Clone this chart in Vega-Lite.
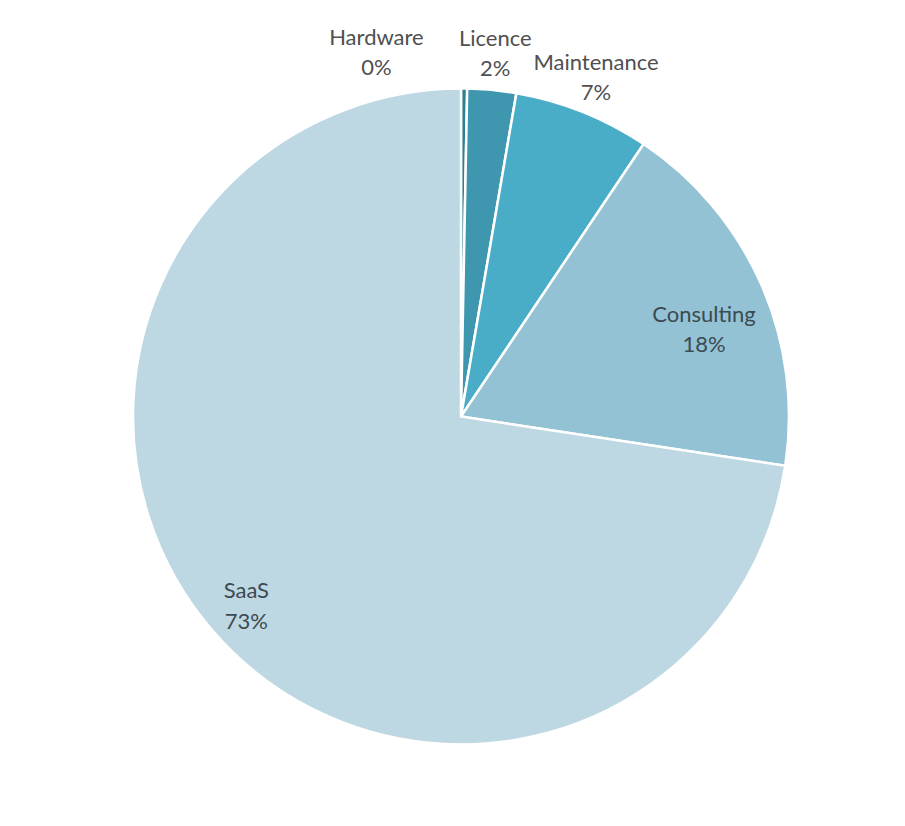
{
  "$schema": "https://vega.github.io/schema/vega-lite/v6.json",
  "width": 905,
  "height": 826,
  "autosize": {"type": "fit", "contains": "padding"},
  "padding": {"left": 17, "top": 7, "right": 0, "bottom": 0},
  "background": "white",
  "config": {
    "view": {"stroke": "#d9d9d9", "strokeWidth": 2},
    "text": {"font": "Lato", "fontSize": 22}
  },
  "data": {
    "values": [
      {"idx": 1, "category": "Hardware", "share": 0.003},
      {"idx": 2, "category": "Licence", "share": 0.024},
      {"idx": 3, "category": "Maintenance", "share": 0.067},
      {"idx": 4, "category": "Consulting", "share": 0.18},
      {"idx": 5, "category": "SaaS", "share": 0.726}
    ]
  },
  "encoding": {
    "theta": {"field": "share", "type": "quantitative", "stack": true},
    "order": {"field": "idx", "type": "quantitative"}
  },
  "layer": [
    {
      "mark": {"type": "arc", "outerRadius": 328, "stroke": "white", "strokeWidth": 2.5},
      "encoding": {
        "color": {
          "field": "category",
          "type": "nominal",
          "scale": {
            "domain": ["Hardware", "Licence", "Maintenance", "Consulting", "SaaS"],
            "range": ["#2e7d93", "#3e97ae", "#4aadc7", "#93c2d4", "#bdd8e2"]
          },
          "legend": null
        }
      }
    },
    {
      "mark": {"type": "text", "radius": 364, "dy": -15, "fill": "#505050"},
      "encoding": {
        "text": {"condition": {"test": "datum.category === 'Licence' || datum.category === 'Maintenance'", "field": "category", "type": "nominal"}, "value": ""}
      }
    },
    {
      "mark": {"type": "text", "radius": 364, "dy": 15, "fill": "#505050"},
      "encoding": {
        "text": {"condition": {"test": "datum.category === 'Licence' || datum.category === 'Maintenance'", "field": "share", "type": "quantitative", "format": ".0%"}, "value": ""}
      }
    },
    {
      "mark": {"type": "text", "radius": 364, "dx": -88, "dy": -15, "fill": "#505050"},
      "encoding": {
        "text": {"condition": {"test": "datum.category === 'Hardware'", "field": "category", "type": "nominal"}, "value": ""}
      }
    },
    {
      "mark": {"type": "text", "radius": 364, "dx": -88, "dy": 15, "fill": "#505050"},
      "encoding": {
        "text": {"condition": {"test": "datum.category === 'Hardware'", "field": "share", "type": "quantitative", "format": ".0%"}, "value": ""}
      }
    },
    {
      "mark": {"type": "text", "radius": 260, "dx": 5, "dy": 3, "fill": "#3c4a52"},
      "encoding": {
        "text": {"condition": {"test": "datum.category === 'Consulting'", "field": "category", "type": "nominal"}, "value": ""}
      }
    },
    {
      "mark": {"type": "text", "radius": 260, "dx": 5, "dy": 33, "fill": "#3c4a52"},
      "encoding": {
        "text": {"condition": {"test": "datum.category === 'Consulting'", "field": "share", "type": "quantitative", "format": ".0%"}, "value": ""}
      }
    },
    {
      "mark": {"type": "text", "radius": 287, "dx": 3, "dy": -13, "fill": "#3c4a52"},
      "encoding": {
        "text": {"condition": {"test": "datum.category === 'SaaS'", "field": "category", "type": "nominal"}, "value": ""}
      }
    },
    {
      "mark": {"type": "text", "radius": 287, "dx": 3, "dy": 18, "fill": "#3c4a52"},
      "encoding": {
        "text": {"condition": {"test": "datum.category === 'SaaS'", "field": "share", "type": "quantitative", "format": ".0%"}, "value": ""}
      }
    }
  ]
}
